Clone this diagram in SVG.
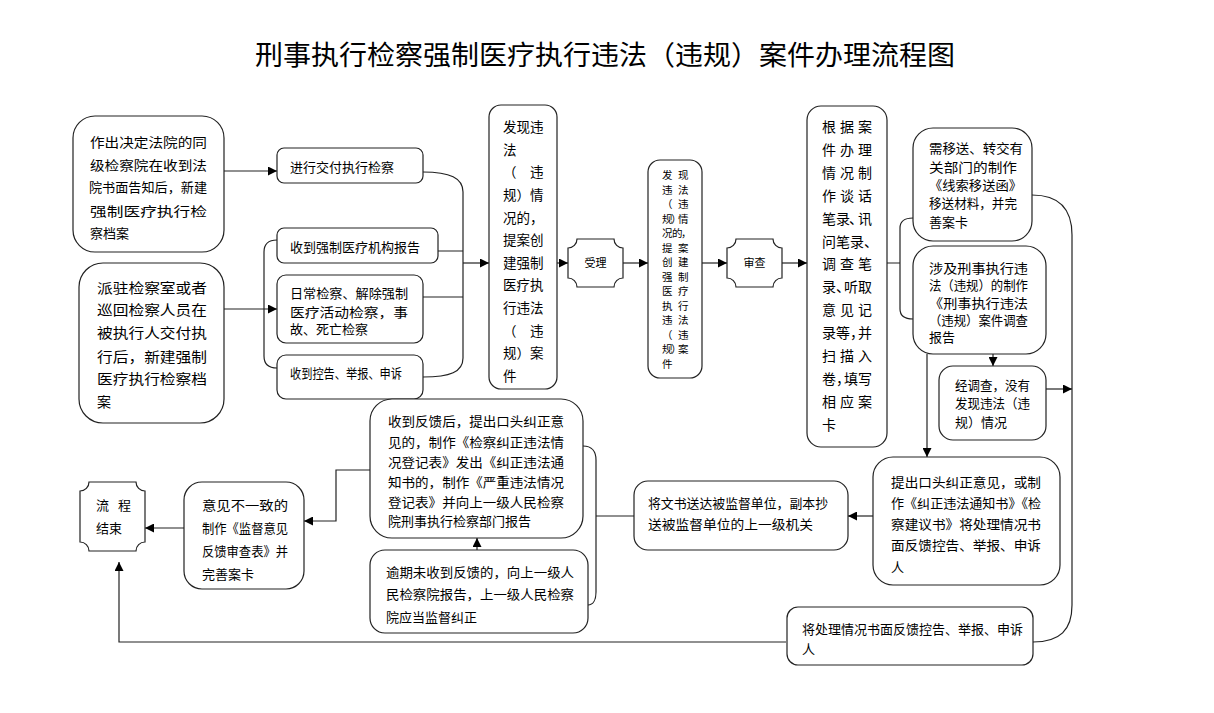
<svg xmlns="http://www.w3.org/2000/svg" width="1214" height="713" viewBox="0 0 1214 713">
<style>
.box{fill:#fff;stroke:#222;stroke-width:1.2}
.c{fill:none;stroke:#222;stroke-width:1.2}
.t{font-family:"Noto Sans CJK SC","Liberation Sans",sans-serif;font-size:13px;fill:#000}
.s{font-size:11px}
.m{font-size:14px}
.title{font-family:"Noto Sans CJK SC","Liberation Sans",sans-serif;font-size:27px;fill:#000}
</style>
<defs>
<marker id="ah" viewBox="0 0 10 10" refX="10" refY="5" markerWidth="10" markerHeight="9" markerUnits="userSpaceOnUse" orient="auto">
<path d="M0,0 L10,5 L0,10 z" fill="#000"/>
</marker>
</defs>
<rect width="1214" height="713" fill="#fff"/>
<text class="title" x="255" y="65" textLength="700" lengthAdjust="spacingAndGlyphs">刑事执行检察强制医疗执行违法（违规）案件办理流程图</text>

<g id="connectors">
<path class="c" d="M224,171 H277" marker-end="url(#ah)"/>
<path class="c" d="M224,309 H277" marker-end="url(#ah)"/>
<path class="c" d="M277,240 C268,240 264,244 264,252 V356 C264,364 268,368 277,368"/>
<path class="c" d="M423,172 C450,172 463,178 463,192 V358 C463,372 450,377 423,377"/>
<path class="c" d="M438,251 H463 M423,297 H463"/>
<path class="c" d="M463,263 H489" marker-end="url(#ah)"/>
<path class="c" d="M557,263 H568" marker-end="url(#ah)"/>
<path class="c" d="M623,263 H648" marker-end="url(#ah)"/>
<path class="c" d="M702,263 H727" marker-end="url(#ah)"/>
<path class="c" d="M782,263 H807" marker-end="url(#ah)"/>
<path class="c" d="M887,263 H900 M913,218 C904,218 900,221 900,228 V309 C900,316 904,319 913,319"/>
<path class="c" d="M927,354 V457" marker-end="url(#ah)"/>
<path class="c" d="M993,354 V366" marker-end="url(#ah)"/>
<path class="c" d="M1046,389 H1072" marker-end="url(#ah)"/>
<path class="c" d="M1032,195 C1060,195 1072,210 1072,235 V605 C1072,630 1060,642 1033,642"/>
<path class="c" d="M873,516 H848" marker-end="url(#ah)"/>
<path class="c" d="M634,516 H596 M583,446 C592,446 596,452 596,460 V592 C596,600 593,605 588,605"/>
<path class="c" d="M477,550 V538" marker-end="url(#ah)"/>
<path class="c" d="M370,470 H336 V521 H304" marker-end="url(#ah)"/>
<path class="c" d="M184,528 H145" marker-end="url(#ah)"/>
<path class="c" d="M786,642 H119 V562" marker-end="url(#ah)"/>
</g>

<g id="n1">
<rect class="box" x="73" y="116" width="151" height="136" rx="22"/>
<text class="t" x="90" y="147" textLength="117" lengthAdjust="spacingAndGlyphs">作出决定法院的同</text>
<text class="t" x="90" y="170" textLength="117" lengthAdjust="spacingAndGlyphs">级检察院在收到法</text>
<text class="t" x="89" y="192" textLength="118" lengthAdjust="spacingAndGlyphs">院书面告知后，新建</text>
<text class="t" x="90" y="216" textLength="117" lengthAdjust="spacingAndGlyphs">强制医疗执行检</text>
<text class="t" x="90" y="238">察档案</text>
</g>

<g id="n2">
<rect class="box" x="79" y="263" width="145" height="160" rx="24"/>
<text class="t m" x="97" y="293" textLength="110" lengthAdjust="spacingAndGlyphs">派驻检察室或者</text>
<text class="t m" x="97" y="315" textLength="110" lengthAdjust="spacingAndGlyphs">巡回检察人员在</text>
<text class="t m" x="97" y="338" textLength="110" lengthAdjust="spacingAndGlyphs">被执行人交付执</text>
<text class="t m" x="97" y="362" textLength="110" lengthAdjust="spacingAndGlyphs">行后，新建强制</text>
<text class="t m" x="97" y="384" textLength="110" lengthAdjust="spacingAndGlyphs">医疗执行检察档</text>
<text class="t m" x="97" y="407">案</text>
</g>

<g id="n3">
<rect class="box" x="277" y="148" width="146" height="35" rx="7"/>
<text class="t" x="290" y="172">进行交付执行检察</text>
</g>
<g id="n4">
<rect class="box" x="277" y="228" width="161" height="35" rx="7"/>
<text class="t" x="290" y="252">收到强制医疗机构报告</text>
</g>
<g id="n5">
<rect class="box" x="277" y="275" width="146" height="68" rx="9"/>
<text class="t" x="290" y="298" textLength="118" lengthAdjust="spacingAndGlyphs">日常检察、解除强制</text>
<text class="t" x="290" y="317" textLength="118" lengthAdjust="spacingAndGlyphs">医疗活动检察，事</text>
<text class="t" x="290" y="334">故、死亡检察</text>
</g>
<g id="n6">
<rect class="box" x="277" y="355" width="146" height="44" rx="9"/>
<text class="t" x="290" y="378" textLength="112" lengthAdjust="spacingAndGlyphs">收到控告、举报、申诉</text>
</g>

<g id="n7">
<rect class="box" x="489" y="105" width="68" height="284" rx="12"/>
<g class="t" style="font-size:13.5px">
<text x="503 516.5 530" y="132">发现违</text>
<text x="503" y="155">法</text>
<text x="503 530" y="177">（违</text>
<text x="503 516.5 530" y="200">规）情</text>
<text x="503 516.5 530" y="223">况的，</text>
<text x="503 516.5 530" y="245">提案创</text>
<text x="503 516.5 530" y="268">建强制</text>
<text x="503 516.5 530" y="290">医疗执</text>
<text x="503 516.5 530" y="313">行违法</text>
<text x="503 530" y="336">（违</text>
<text x="503 516.5 530" y="358">规）案</text>
<text x="503" y="381">件</text>
</g>
</g>

<g id="n8">
<path class="box" d="M577,239 H614 A9 9 0 0 0 623,248 V278 A9 9 0 0 0 614,287 H577 A9 9 0 0 0 568,278 V248 A9 9 0 0 0 577,239 Z"/>
<text class="t s" x="595.5" y="267" text-anchor="middle">受理</text>
</g>

<g id="n9">
<rect class="box" x="648" y="160" width="54" height="218" rx="12"/>
<g class="t" style="font-size:10.5px">
<text x="662 678" y="179">发现</text>
<text x="662 678" y="193.5">违法</text>
<text x="662 678" y="208">（违</text>
<text x="662 671 678" y="222.5">规）情</text>
<text x="662 672 681" y="237">况的，</text>
<text x="662 678" y="251.5">提案</text>
<text x="662 678" y="266">创建</text>
<text x="662 678" y="280.5">强制</text>
<text x="662 678" y="295">医疗</text>
<text x="662 678" y="309.5">执行</text>
<text x="662 678" y="324">违法</text>
<text x="662 678" y="338.5">（违</text>
<text x="662 671 678" y="353">规）案</text>
<text x="662" y="367.5">件</text>
</g>
</g>

<g id="n10">
<path class="box" d="M736,239 H773 A9 9 0 0 0 782,248 V278 A9 9 0 0 0 773,287 H736 A9 9 0 0 0 727,278 V248 A9 9 0 0 0 736,239 Z"/>
<text class="t s" x="754.5" y="267" text-anchor="middle">审查</text>
</g>

<g id="n11">
<rect class="box" x="807" y="106" width="80" height="341" rx="14"/>
<g class="t m">
<text x="822 840 858" y="132">根据案</text>
<text x="822 840 858" y="155">件办理</text>
<text x="822 840 858" y="178">情况制</text>
<text x="822 840 858" y="201">作谈话</text>
<text x="822 836 849 858" y="224">笔录、讯</text>
<text x="822 836 850 864" y="247">问笔录、</text>
<text x="822 840 858" y="269">调查笔</text>
<text x="822 836 844 858" y="292">录、听取</text>
<text x="822 840 858" y="315">意见记</text>
<text x="822 836 850 858" y="338">录等，并</text>
<text x="822 840 858" y="361">扫描入</text>
<text x="822 836 844 858" y="384">卷，填写</text>
<text x="822 840 858" y="407">相应案</text>
<text x="822" y="430">卡</text>
</g>
</g>

<g id="n12">
<rect class="box" x="913" y="128" width="119" height="113" rx="20"/>
<text class="t" x="929" y="153" textLength="94" lengthAdjust="spacingAndGlyphs">需移送、转交有</text>
<text class="t" x="929" y="172" textLength="88" lengthAdjust="spacingAndGlyphs">关部门的制作</text>
<text class="t" x="929" y="190" textLength="93" lengthAdjust="spacingAndGlyphs">《线索移送函》</text>
<text class="t" x="929" y="208" textLength="88" lengthAdjust="spacingAndGlyphs">移送材料，并完</text>
<text class="t" x="929" y="227">善案卡</text>
</g>

<g id="n13">
<rect class="box" x="913" y="246" width="133" height="108" rx="20"/>
<text class="t" x="929" y="273" textLength="99" lengthAdjust="spacingAndGlyphs">涉及刑事执行违</text>
<text class="t" x="929" y="290" textLength="99" lengthAdjust="spacingAndGlyphs">法（违规）的制作</text>
<text class="t" x="929" y="308" textLength="99" lengthAdjust="spacingAndGlyphs">《刑事执行违法</text>
<text class="t" x="929" y="325" textLength="99" lengthAdjust="spacingAndGlyphs">（违规）案件调查</text>
<text class="t" x="929" y="342">报告</text>
</g>

<g id="n14">
<rect class="box" x="939" y="366" width="107" height="74" rx="14"/>
<text class="t" x="955" y="390" textLength="75" lengthAdjust="spacingAndGlyphs">经调查，没有</text>
<text class="t" x="955" y="408" textLength="75" lengthAdjust="spacingAndGlyphs">发现违法（违</text>
<text class="t" x="955" y="427">规）情况</text>
</g>

<g id="n15">
<rect class="box" x="873" y="457" width="187" height="128" rx="20"/>
<text class="t" x="891" y="487" textLength="150" lengthAdjust="spacingAndGlyphs">提出口头纠正意见，或制</text>
<text class="t" x="891" y="508" textLength="150" lengthAdjust="spacingAndGlyphs">作《纠正违法通知书》《检</text>
<text class="t" x="891" y="529" textLength="150" lengthAdjust="spacingAndGlyphs">察建议书》将处理情况书</text>
<text class="t" x="891" y="550" textLength="150" lengthAdjust="spacingAndGlyphs">面反馈控告、举报、申诉</text>
<text class="t" x="891" y="572">人</text>
</g>

<g id="n16">
<rect class="box" x="634" y="481" width="214" height="69" rx="14"/>
<text class="t" x="648" y="508" textLength="180" lengthAdjust="spacingAndGlyphs">将文书送达被监督单位，副本抄</text>
<text class="t" x="648" y="529" textLength="165" lengthAdjust="spacingAndGlyphs">送被监督单位的上一级机关</text>
</g>

<g id="n17">
<rect class="box" x="787" y="607" width="246" height="58" rx="11"/>
<text class="t" x="802" y="634" textLength="221" lengthAdjust="spacingAndGlyphs">将处理情况书面反馈控告、举报、申诉</text>
<text class="t" x="802" y="654">人</text>
</g>

<g id="n18">
<rect class="box" x="370" y="399" width="213" height="139" rx="22"/>
<text class="t" x="388" y="426" textLength="176" lengthAdjust="spacingAndGlyphs">收到反馈后，提出口头纠正意</text>
<text class="t" x="388" y="447" textLength="176" lengthAdjust="spacingAndGlyphs">见的，制作《检察纠正违法情</text>
<text class="t" x="388" y="467" textLength="176" lengthAdjust="spacingAndGlyphs">况登记表》发出《纠正违法通</text>
<text class="t" x="388" y="487" textLength="176" lengthAdjust="spacingAndGlyphs">知书的，制作《严重违法情况</text>
<text class="t" x="388" y="507" textLength="176" lengthAdjust="spacingAndGlyphs">登记表》并向上一级人民检察</text>
<text class="t" x="388" y="526">院刑事执行检察部门报告</text>
</g>

<g id="n19">
<rect class="box" x="370" y="550" width="218" height="83" rx="15"/>
<text class="t" x="386" y="577" textLength="188" lengthAdjust="spacingAndGlyphs">逾期未收到反馈的，向上一级人</text>
<text class="t" x="386" y="599" textLength="188" lengthAdjust="spacingAndGlyphs">民检察院报告，上一级人民检察</text>
<text class="t" x="386" y="622">院应当监督纠正</text>
</g>

<g id="n20">
<rect class="box" x="184" y="482" width="120" height="107" rx="18"/>
<text class="t" x="202" y="510" textLength="86" lengthAdjust="spacingAndGlyphs">意见不一致的</text>
<text class="t" x="202" y="533" textLength="86" lengthAdjust="spacingAndGlyphs">制作《监督意见</text>
<text class="t" x="202" y="556" textLength="86" lengthAdjust="spacingAndGlyphs">反馈审查表》并</text>
<text class="t" x="202" y="579">完善案卡</text>
</g>

<g id="n21">
<path class="box" d="M89,482 H136 A9 9 0 0 0 145,491 V542 A9 9 0 0 0 136,551 H89 A9 9 0 0 0 80,542 V491 A9 9 0 0 0 89,482 Z"/>
<text class="t" x="96 118" y="510">流程</text>
<text class="t" x="96" y="533">结束</text>
</g>
</svg>
